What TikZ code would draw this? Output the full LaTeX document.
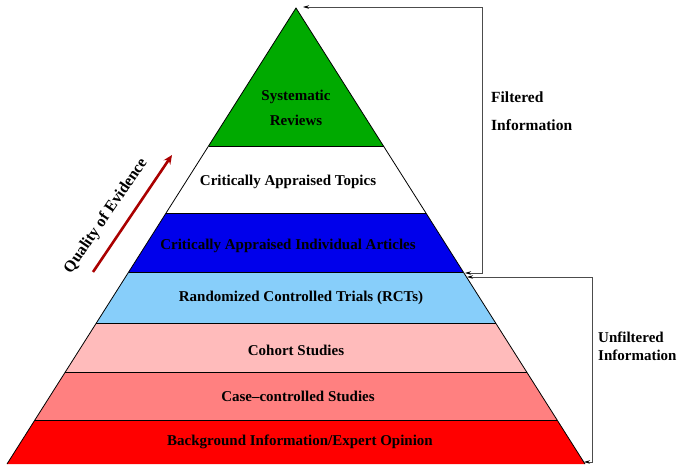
\documentclass[tikz,border=0pt]{standalone}
\usepackage{fontspec}
\setmainfont{Liberation Serif}
\usetikzlibrary{arrows.meta}
\definecolor{cgreen}{RGB}{0,170,0}
\definecolor{cblue}{RGB}{0,0,235}
\definecolor{clblue}{RGB}{135,206,250}
\definecolor{cpink}{RGB}{255,187,187}
\definecolor{csalmon}{RGB}{255,128,128}
\definecolor{cred}{RGB}{255,0,0}
\definecolor{cdred}{RGB}{170,0,0}
\tikzset{
  layer/.style={draw=black, line width=0.8pt, line join=miter},
  lbl/.style={font=\fontsize{15}{25}\selectfont\bfseries, align=center, inner sep=0pt},
  side/.style={font=\fontsize{15.5}{28}\selectfont\bfseries, align=left, anchor=west, inner sep=0pt},
  bracket/.style={draw=black!70, line width=0.8pt, {Stealth[length=6pt,width=3.5pt,black]}-{Stealth[length=6pt,width=3.5pt,black]}}
}
\begin{document}
\begin{tikzpicture}[x=1pt,y=-1pt]
\useasboundingbox (0,0) rectangle (688,464);
% layers
\fill[cgreen] (296,8) -- (383.5,146) -- (208.5,146) -- cycle;
\fill[white] (208.5,146) -- (383.5,146) -- (425.9,213) -- (166.1,213) -- cycle;
\fill[cblue] (166.1,213) -- (425.9,213) -- (463.3,272) -- (128.7,272) -- cycle;
\fill[clblue] (128.7,272) -- (463.3,272) -- (495.6,323) -- (96.4,323) -- cycle;
\fill[cpink] (96.4,323) -- (495.6,323) -- (526.7,372) -- (65.3,372) -- cycle;
\fill[csalmon] (65.3,372) -- (526.7,372) -- (557.1,420) -- (34.9,420) -- cycle;
\fill[cred] (34.9,420) -- (557.1,420) -- (585,464) -- (7,464) -- cycle;
\draw[layer] (208.5,146) -- (383.5,146);
\draw[layer] (166.1,213) -- (425.9,213);
\draw[layer] (128.7,272) -- (463.3,272);
\draw[layer] (96.4,323) -- (495.6,323);
\draw[layer] (65.3,372) -- (526.7,372);
\draw[layer] (34.9,420) -- (557.1,420);
\coordinate (apex) at (296,8);
\coordinate (bl) at (7,464);
\coordinate (br) at (585,464);
\draw[layer] (bl) -- (apex) -- (br);
% labels
\node[lbl] (sr) at (296,108) {Systematic\\Reviews};
\node[lbl] (cat) at (288,182) {Critically Appraised Topics};
\node[lbl] (caia) at (288,246) {Critically Appraised Individual Articles};
\node[lbl] (rct) at (301,298) {Randomized Controlled Trials (RCTs)};
\node[lbl] (coh) at (296,350) {Cohort Studies};
\node[lbl] (cc) at (298,396) {Case--controlled Studies};
\node[lbl] (bg) at (300,442) {Background Information/Expert Opinion};
% brackets
\coordinate (f1) at (465,273);
\coordinate (f2) at (482,273);
\coordinate (f3) at (482,7);
\coordinate (f4) at (303,7);
\draw[bracket] (f1) -- (f2) -- (f3) -- (f4);
\coordinate (u1) at (467,277);
\coordinate (u2) at (592,277);
\coordinate (u3) at (592,462);
\coordinate (u4) at (584,462);
\draw[bracket] (u1) -- (u2) -- (u3) -- (u4);
\node[side] (filt) at (491,111) {Filtered\\Information};
\node[side, font=\fontsize{15}{18}\selectfont\bfseries] (unfilt) at (598,346) {Unfiltered\\Information};
% quality arrow
\coordinate (q1) at (93,272);
\coordinate (q2) at (172,155);
\draw[cdred, line width=2.6pt, -{Stealth[length=9pt,width=8pt]}] (q1) -- (q2);
\node[font=\fontsize{16}{18}\selectfont\bfseries, rotate=55.7, inner sep=0pt] (qe) at (106,216) {Quality of Evidence};
\end{tikzpicture}
\end{document}
